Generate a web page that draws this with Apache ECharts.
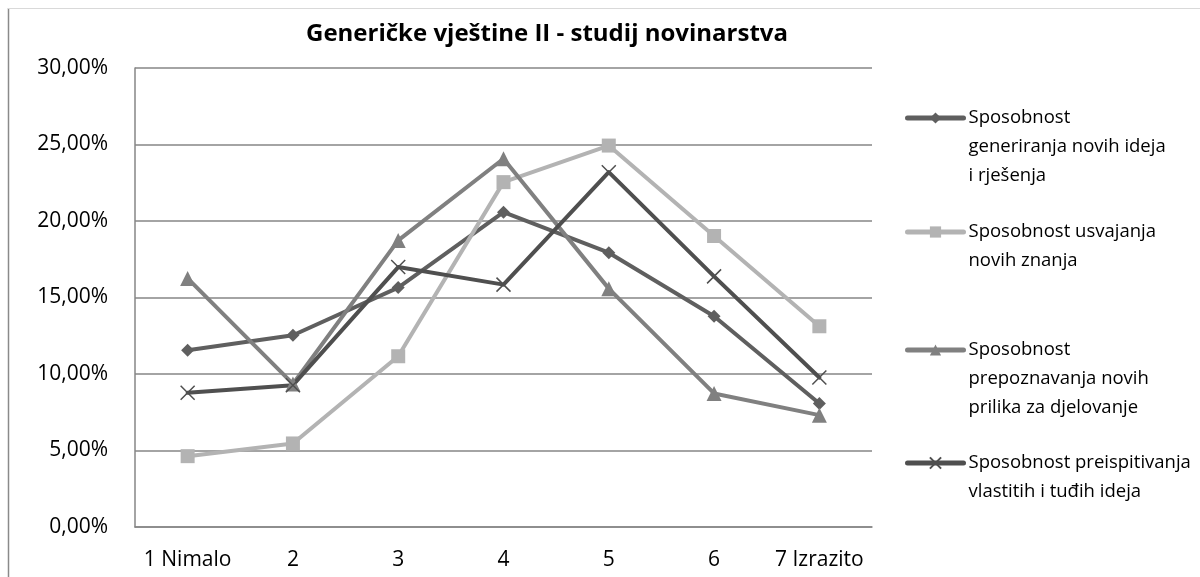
<!DOCTYPE html>
<html>
<head>
<meta charset="utf-8">
<script src="https://cdn.jsdelivr.net/npm/echarts@6/dist/echarts.min.js"></script>
<style>
  html, body { margin: 0; padding: 0; background: #fff; }
  #main { width: 1200px; height: 577px; }
</style>
</head>
<body>
<div id="main"></div>
<script>
// kategorije (skala 1-7)
var categories = ['1 Nimalo', '2', '3', '4', '5', '6', '7 Izrazito'];
// vrijednosti u postocima
var generiranje = [11.55, 12.53, 15.65, 20.58, 17.93, 13.77, 8.07];
var usvajanje = [4.63, 5.46, 11.16, 22.54, 24.93, 19.02, 13.12];
var prepoznavanje = [16.25, 9.35, 18.73, 24.07, 15.58, 8.73, 7.31];
var preispitivanje = [8.77, 9.27, 16.99, 15.84, 23.19, 16.38, 9.77];
var seriesNames = [
  'Sposobnost\ngeneriranja novih ideja\ni rješenja',
  'Sposobnost usvajanja\nnovih znanja',
  'Sposobnost\nprepoznavanja novih\nprilika za djelovanje',
  'Sposobnost preispitivanja\nvlastitih i tuđih ideja'
];
var yTicks = [0, 5, 10, 15, 20, 25, 30];

var FONT = 'Open Sans';
var LH = 29; // razmak redova u legendi

var chart = echarts.init(document.getElementById('main'));

// jedna legenda po seriji; prazni redovi iznad guraju prvi red teksta u visinu ikone
function legendFor(name, iconCenterY) {
  var lines = name.split('\n').length;
  return {
    data: [name],
    orient: 'vertical',
    left: 905,
    top: iconCenterY - (2 * lines - 1) * LH / 2,
    padding: 0,
    itemWidth: 56,
    itemHeight: 14,
    itemGap: 0,
    selectedMode: false,
    lineStyle: { width: 5, cap: 'round' },
    formatter: function (n) {
      return new Array(lines).join('\n') + n;
    },
    textStyle: {
      fontFamily: FONT,
      fontSize: 18.5,
      color: '#000',
      lineHeight: LH
    }
  };
}

function lineSeries(name, data, color, symbol, size, extra) {
  var s = {
    name: name,
    type: 'line',
    data: data,
    symbol: symbol,
    symbolSize: size,
    showAllSymbol: true,
    lineStyle: { color: color, width: 4, cap: 'round', join: 'round' },
    itemStyle: { color: color },
    emphasis: { disabled: true }
  };
  if (extra) s.itemStyle = Object.assign(s.itemStyle, extra);
  return s;
}

var option = {
  animation: false,
  backgroundColor: '#fff',
  title: {
    text: 'Generičke vještine II - studij novinarstva',
    left: 542,
    top: 17,
    textAlign: 'center',
    textStyle: { fontFamily: FONT, fontSize: 24, fontWeight: 'bold', color: '#000' }
  },
  graphic: [
    { type: 'line', shape: { x1: 8.5, y1: 8, x2: 8.5, y2: 577 }, style: { stroke: '#8a8a8a', lineWidth: 1.5 } },
    { type: 'line', shape: { x1: 8, y1: 8.5, x2: 1200, y2: 8.5 }, style: { stroke: '#d9d9d9', lineWidth: 1 } }
  ],
  legend: [
    legendFor(seriesNames[0], 118),
    legendFor(seriesNames[1], 232),
    legendFor(seriesNames[2], 350),
    legendFor(seriesNames[3], 463)
  ],
  grid: { left: 135, right: 328, top: 68, bottom: 50, containLabel: false },
  xAxis: {
    type: 'category',
    data: categories,
    boundaryGap: true,
    axisLine: { lineStyle: { color: '#868686', width: 1.5 } },
    axisTick: { show: false },
    axisLabel: { interval: 0, fontFamily: FONT, fontSize: 21, color: '#000', margin: 23 }
  },
  yAxis: {
    type: 'value',
    min: yTicks[0],
    max: yTicks[yTicks.length - 1],
    interval: 5,
    axisLine: { show: true, lineStyle: { color: '#868686', width: 1.5 } },
    axisTick: { show: false },
    splitLine: { lineStyle: { color: '#868686', width: 1.5 } },
    axisLabel: {
      fontFamily: FONT,
      fontSize: 21,
      color: '#000',
      margin: 27,
      formatter: function (v) { return v.toFixed(2).replace('.', ',') + '%'; }
    }
  },
  series: [
    lineSeries(seriesNames[0], generiranje, '#5f5f5f', 'diamond', 13),
    lineSeries(seriesNames[1], usvajanje, '#b3b3b3', 'rect', 14),
    lineSeries(seriesNames[2], prepoznavanje, '#808080', 'triangle', 15),
    lineSeries(seriesNames[3], preispitivanje, '#4f4f4f', 'path://M0,0L10,10M10,0L0,10', 14,
      { borderColor: '#4f4f4f', borderWidth: 1.5 })
  ]
};

chart.setOption(option);
</script>
</body>
</html>
